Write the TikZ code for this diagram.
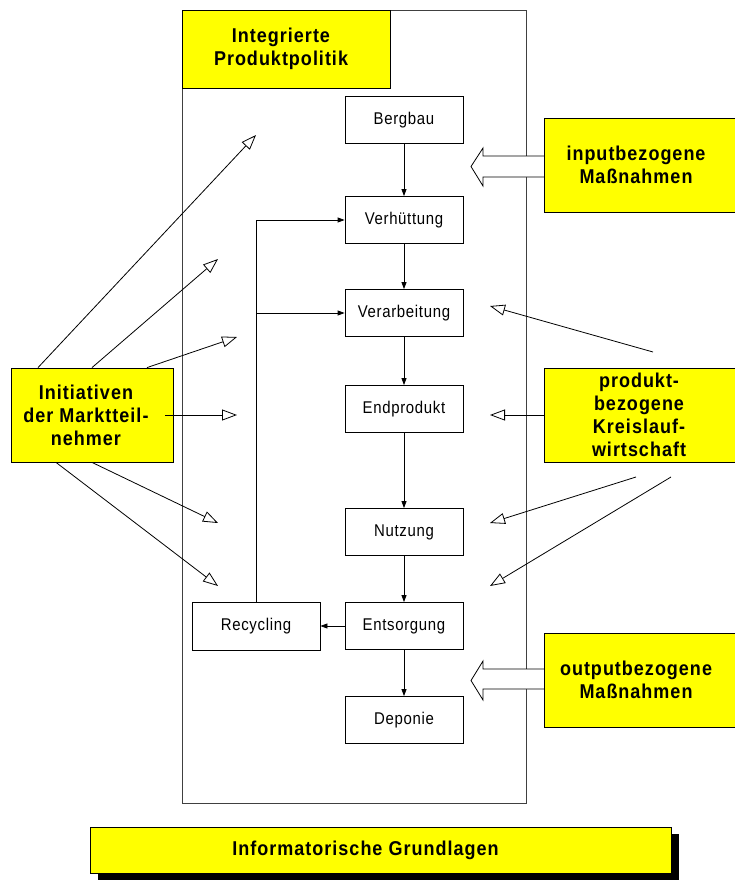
\documentclass[tikz,border=0pt]{standalone}
\usepackage{fontspec}
\setmainfont{Liberation Sans}
\newfontfamily\flussschrift[LetterSpace=4, FakeStretch=0.88]{Liberation Sans}
\newfontfamily\kastenschrift[LetterSpace=5, FakeStretch=0.9]{Liberation Sans}
\usetikzlibrary{arrows.meta}
\definecolor{gelb}{RGB}{255,255,0}

\tikzset{
    stufe/.style={draw, fill=white, line width=0.8pt, minimum width=118pt, minimum height=47pt, inner sep=0pt, font=\flussschrift\fontsize{17}{20}\selectfont},
    kasten/.style={draw, fill=gelb, line width=0.8pt, inner sep=0pt},
    kastentext/.style={inner sep=0pt, align=center, font=\kastenschrift\bfseries\fontsize{20}{23}\selectfont},
    fluss/.style={-{Triangle[length=7pt,width=5pt]}, line width=0.8pt},
    hohl/.style={-{Triangle[open,length=15pt,width=11pt]}, line width=0.8pt},
    breitpfeil/.style={draw, fill=white, line width=0.8pt}
}

\begin{document}
\begin{tikzpicture}[x=1pt, y=-1pt]
    \useasboundingbox (0,0) rectangle (734,880);

    % Rahmen.
    \draw[line width=0.8pt, draw=black!75] (182,10) rectangle (526,803);
    \node[kasten, minimum width=208pt, minimum height=78pt] (ipp) at (286,49) {};
    \node[kastentext] (ipp-t) at ([xshift=-5pt]ipp.center) {Integrierte\\Produktpolitik};

    % Stufen.
    \node[stufe] (bergbau)      at (404,120) {Bergbau};
    \node[stufe] (verhuettung)  at (404,220) {Verhüttung};
    \node[stufe] (verarbeitung) at (404,313) {Verarbeitung};
    \node[stufe] (endprodukt)   at (404,409) {Endprodukt};
    \node[stufe] (nutzung)      at (404,532) {Nutzung};
    \node[stufe] (entsorgung)   at (404,626) {Entsorgung};
    \node[stufe] (deponie)      at (404,720) {Deponie};
    \node[stufe, minimum width=128pt, minimum height=48pt] (recycling) at (256,626) {Recycling};

    \foreach \a/\b in {bergbau/verhuettung, verhuettung/verarbeitung, verarbeitung/endprodukt,
                       endprodukt/nutzung, nutzung/entsorgung, entsorgung/deponie}
    {
        \draw[fluss] (\a) -- (\b);
    }
    \draw[fluss] (entsorgung) -- (recycling);
    \draw[fluss] (recycling.north) |- (verhuettung.west);
    \draw[fluss] (recycling.north |- verarbeitung.west) -- (verarbeitung.west);

    % Breite Pfeile.
    \draw[breitpfeil] (544,156) -- (483,156) -- (483,148) -- (471,166.5) -- (483,186) -- (483,177) -- (544,177);
    \draw[breitpfeil] (544,669) -- (483,669) -- (483,661) -- (471,680.5) -- (483,700) -- (483,689) -- (544,689);

    % Kaesten rechts.
    \node[kasten, minimum width=192pt, minimum height=94pt] (input)   at (640,165) {};
    \node[kasten, minimum width=192pt, minimum height=94pt] (produkt) at (640,415) {};
    \node[kasten, minimum width=192pt, minimum height=94pt] (output)  at (640,680) {};
    \node[kastentext] (input-t)   at ([xshift=-4pt]input.center)   {inputbezogene\\Maßnahmen};
    \node[kastentext] (produkt-t) at ([xshift=-1pt]produkt.center) {produkt-\\bezogene\\Kreislauf-\\wirtschaft};
    \node[kastentext] (output-t)  at ([xshift=-4pt]output.center)  {outputbezogene\\Maßnahmen};

    % Kasten links.
    \node[kasten, minimum width=162pt, minimum height=94pt] (init) at (92,415) {};
    \node[kastentext] (init-t) at ([xshift=-6pt]init.center) {Initiativen\\der Marktteil-\\nehmer};

    % Pfeile links.
    \coordinate (l1) at (256,135);
    \coordinate (l2) at (218,259);
    \coordinate (l3) at (237,337);
    \coordinate (l4) at (237,415);
    \coordinate (l5) at (218,523);
    \coordinate (l6) at (218,586);
    \draw[hohl] ([xshift=-54pt]init.north) -- (l1);
    \draw[hohl] (init.north) -- (l2);
    \draw[hohl] ([xshift=55pt]init.north) -- (l3);
    \draw[hohl] ([xshift=-8pt]init.east) -- (l4);
    \draw[hohl] (init.south) -- (l5);
    \draw[hohl] ([xshift=-36pt]init.south) -- (l6);

    % Pfeile rechts.
    \coordinate (r1) at (653,352);
    \coordinate (r3) at (636,477);
    \coordinate (r4) at (671,477);
    \draw[hohl] (r1) -- (490,306);
    \draw[hohl] (produkt.west) -- (490,415);
    \draw[hohl] (r3) -- (490,523);
    \draw[hohl] (r4) -- (490,586);

    % Grundlagen.
    \fill (98,834) rectangle (679,880);
    \node[kasten, minimum width=581pt, minimum height=46pt] (info) at (380.5,850) {};
    \node[kastentext] (info-t) at ([xshift=-15pt]info.center) {Informatorische Grundlagen};
\end{tikzpicture}
\end{document}
